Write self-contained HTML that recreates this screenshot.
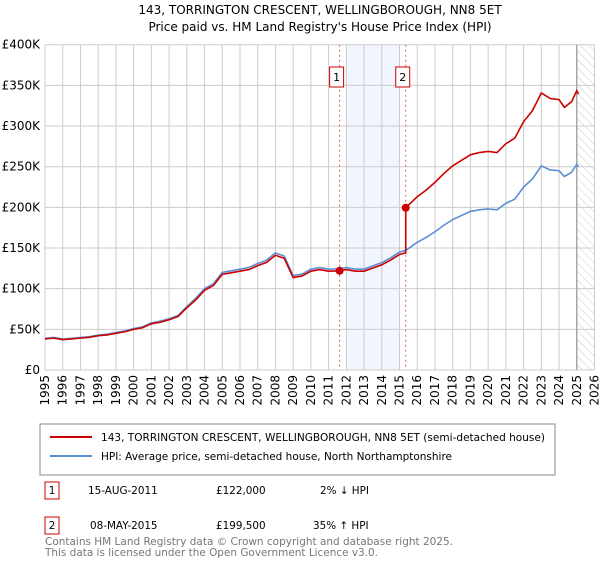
<!DOCTYPE html>
<html><head><meta charset="utf-8"><style>
body{margin:0;background:#fff;font-family:"Liberation Sans","DejaVu Sans",sans-serif;}
svg text{font-family:"DejaVu Sans","Liberation Sans",sans-serif;}
</style></head><body>
<svg id="c" width="600" height="560" xmlns="http://www.w3.org/2000/svg">
<defs><pattern id="hatch" width="6" height="6" patternUnits="userSpaceOnUse" patternTransform="rotate(-45)"><line x1="0" y1="0" x2="0" y2="6" stroke="#ccc" stroke-width="1"/></pattern></defs>
<text x="320" y="14" text-anchor="middle" font-size="12">143, TORRINGTON CRESCENT, WELLINGBOROUGH, NN8 5ET</text>
<text x="320" y="31" text-anchor="middle" font-size="12">Price paid vs. HM Land Registry's House Price Index (HPI)</text>
<g id="plot"></g>
<rect x="40" y="424" width="515" height="51" fill="#fff" stroke="#888"/>
<line x1="50" y1="437" x2="92" y2="437" stroke="#cc0000" stroke-width="2"/>
<text x="101" y="441" font-size="10.4" textLength="444" lengthAdjust="spacingAndGlyphs">143, TORRINGTON CRESCENT, WELLINGBOROUGH, NN8 5ET (semi-detached house)</text>
<line x1="50" y1="456" x2="92" y2="456" stroke="#5b8fd4" stroke-width="2"/>
<text x="101" y="460" font-size="10.4" textLength="351" lengthAdjust="spacingAndGlyphs">HPI: Average price, semi-detached house, North Northamptonshire</text>
<g font-size="10.4">
<rect x="45" y="482" width="14" height="17" fill="#fff" stroke="#cc0000"/>
<text x="52" y="494" text-anchor="middle">1</text>
<text x="88" y="494">15-AUG-2011</text><text x="216" y="494">£122,000</text><text x="320" y="494">2% ↓ HPI</text>
<rect x="45" y="517" width="14" height="17" fill="#fff" stroke="#cc0000"/>
<text x="52" y="529" text-anchor="middle">2</text>
<text x="90" y="529">08-MAY-2015</text><text x="216" y="529">£199,500</text><text x="313" y="529">35% ↑ HPI</text>
</g>
<text x="45" y="545" font-size="10.5" fill="#777" textLength="408" lengthAdjust="spacingAndGlyphs">Contains HM Land Registry data © Crown copyright and database right 2025.</text>
<text x="45" y="556" font-size="10.5" fill="#777" textLength="333" lengthAdjust="spacingAndGlyphs">This data is licensed under the Open Government Licence v3.0.</text>
</svg>
<script>
const hpiYears=[1995,1995.5,1996,1996.5,1997,1997.5,1998,1998.5,1999,1999.5,2000,2000.5,2001,2001.5,2002,2002.5,2003,2003.5,2004,2004.5,2005,2005.5,2006,2006.5,2007,2007.5,2008,2008.5,2009,2009.5,2010,2010.5,2011,2011.62,2012,2012.5,2013,2013.5,2014,2014.5,2015,2015.35,2016,2016.5,2017,2017.5,2018,2018.5,2019,2019.5,2020,2020.5,2021,2021.5,2022,2022.5,2023,2023.5,2024,2024.3,2024.7,2025,2025.1];
const hpiValues=[39,40,38,39,40,41,43,44,46,48,51,53,58,60,63,67,78,88,100,106,120,122,124,126,131,135,144,140,116,118,124,126,124,124.5,126,124,124,128,132,138,145,147,157,163,170,178,185,190,195,197,198,197,205,210,225,235,251,246,245,238,243,253,250];
const saleYears=[2011.62,2015.35];
const salePrices=[122,199.5];
const yTicks=[0,50,100,150,200,250,300,350,400];
const yTickLabels=["£0","£50K","£100K","£150K","£200K","£250K","£300K","£350K","£400K"];
const xTicks=[1995,1996,1997,1998,1999,2000,2001,2002,2003,2004,2005,2006,2007,2008,2009,2010,2011,2012,2013,2014,2015,2016,2017,2018,2019,2020,2021,2022,2023,2024,2025,2026];
const NS="http://www.w3.org/2000/svg";
const X0=45,X1=594.5,Y0=370,Y1=44.7;
const xs=y=>X0+(y-1995)/(2026-1995)*(X1-X0);
const ys=v=>Y0-v/400*(Y0-Y1);
const g=document.getElementById('plot');
function mk(t,a){const e=document.createElementNS(NS,t);for(const k in a)e.setAttribute(k,a[k]);g.appendChild(e);return e;}
let e=mk('rect',{x:xs(2012),y:Y1,width:xs(2015)-xs(2012),height:Y0-Y1,fill:'#eef3fc',opacity:0.8});


e=mk('rect',{x:xs(2025),y:Y1,width:X1-xs(2025),height:Y0-Y1,fill:'url(#hatch)'});


yTicks.forEach((v,i)=>{
 e=mk('line',{x1:X0,x2:X1,y1:ys(v),y2:ys(v),stroke:'#ccc','stroke-width':1});
 
 
 e=mk('text',{x:40,y:ys(v)+4,'text-anchor':'end','font-size':12});
 e.textContent=yTickLabels[i];
 
 
});
xTicks.forEach(y=>{
 e=mk('line',{x1:xs(y),x2:xs(y),y1:Y1,y2:Y0,stroke:'#ccc','stroke-width':1});
 
 
 e=mk('text',{x:0,y:0,'text-anchor':'end','font-size':12,transform:`translate(${xs(y)+4},375) rotate(-90)`});
 e.textContent=y;
 
 
});
e=mk('line',{x1:xs(2025),x2:xs(2025),y1:Y1,y2:Y0,stroke:'#999','stroke-width':1.2});


saleYears.forEach((y,i)=>{
 e=mk('line',{x1:xs(y),x2:xs(y),y1:Y1,y2:Y0,stroke:'#e06060','stroke-width':1,'stroke-dasharray':'2,3'});
 
 
 e=mk('rect',{x:xs(y)-10,y:67,width:14,height:20,fill:'#fff',stroke:'#cc0000'});
 
 
 e=mk('text',{x:xs(y)-3,y:81,'text-anchor':'middle','font-size':11});
 e.textContent=i+1;
 
 
});
function interp(y){for(let i=1;i<hpiYears.length;i++){if(y<=hpiYears[i]){const t=(y-hpiYears[i-1])/(hpiYears[i]-hpiYears[i-1]);return hpiValues[i-1]+t*(hpiValues[i]-hpiValues[i-1]);}}return hpiValues[hpiValues.length-1];}
const hpiPts=hpiYears.map((y,i)=>xs(y)+','+ys(hpiValues[i])).join(' ');
e=mk('polyline',{points:hpiPts,fill:'none',stroke:'#5b8fd4','stroke-width':1.6});


const r1=salePrices[0]/interp(saleYears[0]),r2=salePrices[1]/interp(saleYears[1]);
let red=[];
hpiYears.forEach((y,i)=>{
 if(y<saleYears[1]) red.push([y,hpiValues[i]*r1]);
 else if(y==saleYears[1]){red.push([y,hpiValues[i]*r1]);red.push([y,salePrices[1]]);}
 else red.push([y,hpiValues[i]*r2]);
});
e=mk('polyline',{points:red.map(p=>xs(p[0])+','+ys(p[1])).join(' '),fill:'none',stroke:'#cc0000','stroke-width':1.6});


saleYears.forEach((y,i)=>{
 e=mk('circle',{cx:xs(y),cy:ys(salePrices[i]),r:4,fill:'#cc0000'});
 
 
});
</script>
</body></html>
